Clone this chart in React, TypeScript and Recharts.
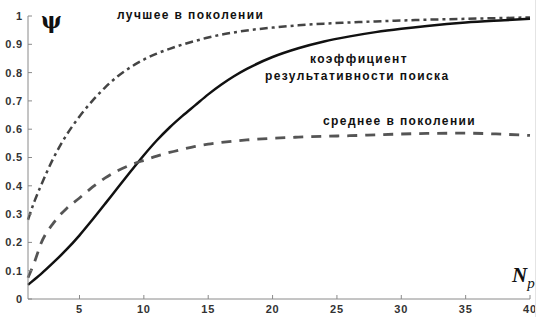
import React from "react";
import { LineChart, Line, XAxis, YAxis } from "recharts";

// N_p values (population size)
const npValues = [1, 1.5, 2, 3, 4, 5, 6, 7, 8, 9, 10, 11, 12, 13, 14, 15, 16, 17, 18, 20, 22, 24, 26, 28, 30, 32, 35, 38, 40];

// лучшее в поколении
const bestInGen = [0.28, 0.345, 0.4, 0.5, 0.58, 0.645, 0.7, 0.748, 0.788, 0.82, 0.846, 0.867, 0.884, 0.899, 0.912, 0.924, 0.934, 0.942, 0.949, 0.959, 0.967, 0.973, 0.977, 0.981, 0.984, 0.987, 0.99, 0.993, 0.995];

// коэффициент результативности поиска
const searchCoef = [0.05, 0.069, 0.088, 0.13, 0.175, 0.225, 0.28, 0.337, 0.395, 0.452, 0.508, 0.56, 0.606, 0.647, 0.685, 0.723, 0.757, 0.787, 0.813, 0.855, 0.886, 0.91, 0.928, 0.943, 0.955, 0.965, 0.977, 0.985, 0.99];

// среднее в поколении
const avgInGen = [0.075, 0.13, 0.195, 0.27, 0.32, 0.357, 0.395, 0.428, 0.454, 0.474, 0.49, 0.505, 0.518, 0.529, 0.539, 0.547, 0.553, 0.558, 0.562, 0.568, 0.572, 0.575, 0.577, 0.58, 0.583, 0.585, 0.586, 0.582, 0.578];

const xTicks = [5, 10, 15, 20, 25, 30, 35, 40];
const yTicks = [0, 0.1, 0.2, 0.3, 0.4, 0.5, 0.6, 0.7, 0.8, 0.9, 1];

const data = npValues.map((x, i) => ({
  x,
  best: bestInGen[i],
  coef: searchCoef[i],
  avg: avgInGen[i],
}));

const tickStyle = {
  fontFamily: "Liberation Sans, Arial, sans-serif",
  fontSize: 11,
  fontWeight: 700,
  fill: "#333",
  letterSpacing: 0.8,
};

const labelFont = "Liberation Sans, Arial, sans-serif";

export default function App() {
  return (
    <div style={{ position: "relative", width: 541, height: 317, background: "#fff" }}>
      <style>{"body{margin:0}"}</style>
      <LineChart
        width={541}
        height={317}
        data={data}
        margin={{ top: 16, right: 11, bottom: 0, left: 0 }}
      >
        <XAxis
          type="number"
          dataKey="x"
          domain={[1, 40]}
          ticks={xTicks}
          height={18}
          tickSize={-4}
          tickMargin={10}
          stroke="#8a8a8a"
          tick={tickStyle}
        />
        <YAxis
          type="number"
          domain={[0, 1]}
          ticks={yTicks}
          width={28}
          tickSize={-4}
          tickMargin={9}
          stroke="#8a8a8a"
          tick={tickStyle}
        />
        <Line
          type="monotone"
          dataKey="best"
          stroke="#444"
          strokeWidth={2.5}
          strokeDasharray="8 4 3 4"
          dot={false}
          isAnimationActive={false}
        />
        <Line
          type="monotone"
          dataKey="coef"
          stroke="#111"
          strokeWidth={2.5}
          dot={false}
          isAnimationActive={false}
        />
        <Line
          type="monotone"
          dataKey="avg"
          stroke="#555"
          strokeWidth={2.8}
          strokeDasharray="10 8"
          dot={false}
          isAnimationActive={false}
        />
      </LineChart>

      <svg
        width={541}
        height={317}
        style={{ position: "absolute", left: 0, top: 0, pointerEvents: "none" }}
      >
        <line x1={535.5} y1={0} x2={535.5} y2={317} stroke="#e4e4e4" strokeWidth={1} />
        <text x={41} y={28} fontFamily="DejaVu Serif, serif" fontSize={22} fontWeight={700} fill="#111">
          ψ
        </text>
        <g fontFamily={labelFont} fontSize={12} fontWeight={700} fill="#111" letterSpacing={1.4}>
          <text x={117} y={19}>лучшее в поколении</text>
          <text x={310} y={63}>коэффициент</text>
          <text x={265} y={80}>результативности поиска</text>
          <text x={323} y={125}>среднее в поколении</text>
        </g>
        <text x={512} y={282} fontFamily="Liberation Serif, serif" fontSize={21} fontWeight={700} fontStyle="italic" fill="#111">
          N
          <tspan fontSize={15} fontWeight={400} dy={6}>p</tspan>
        </text>
      </svg>
    </div>
  );
}
